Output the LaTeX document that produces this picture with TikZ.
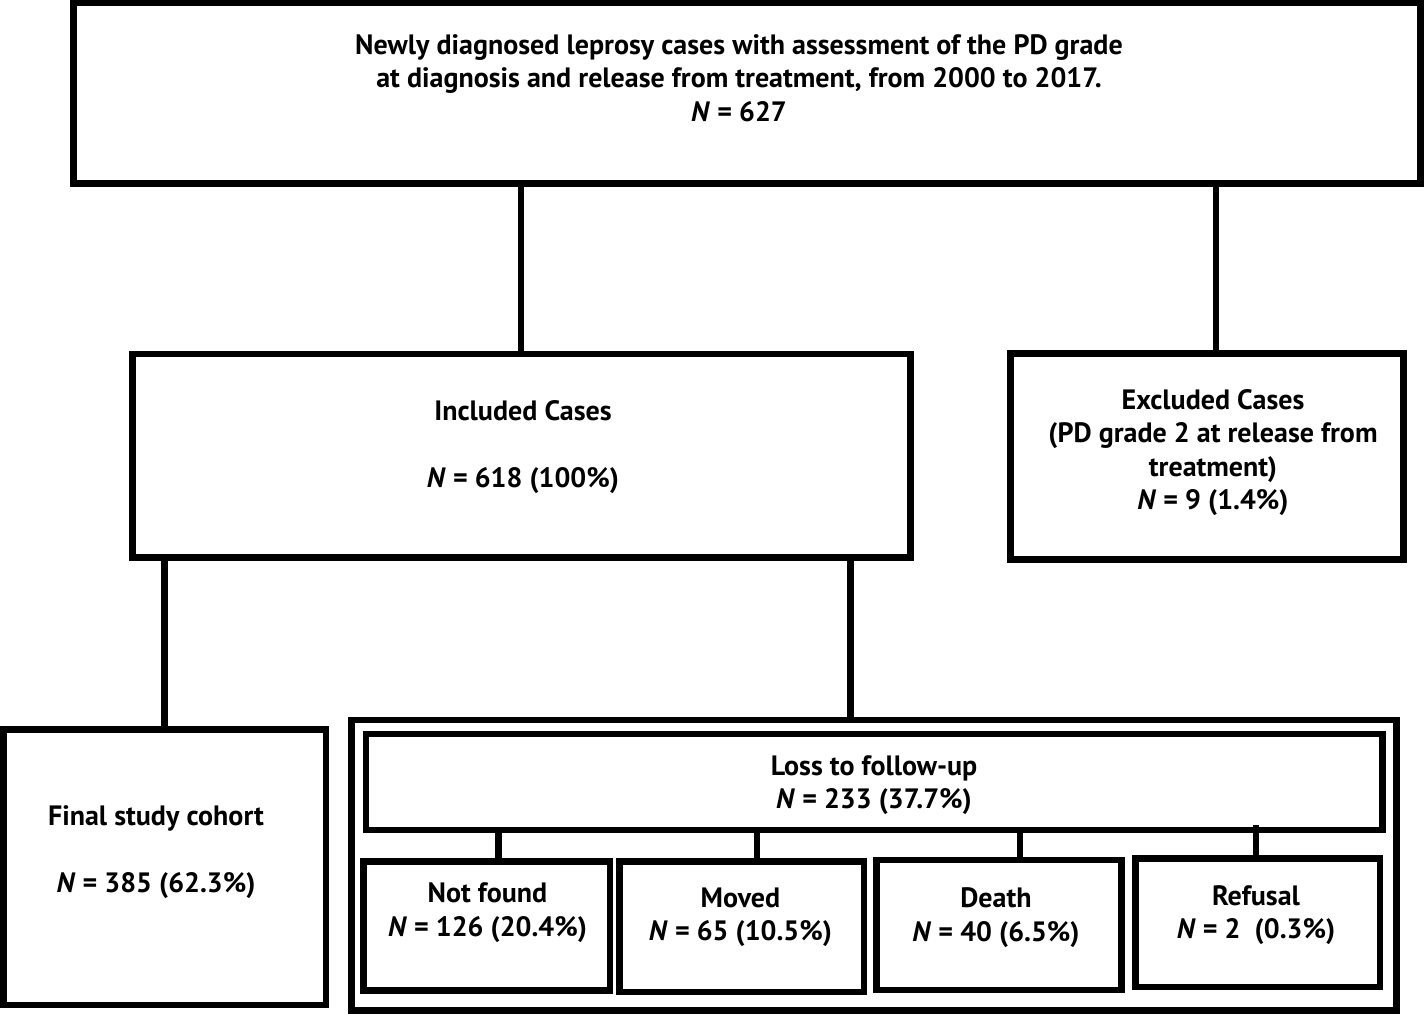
\documentclass[tikz,border=0pt]{standalone}
\usepackage{fontspec}
\setmainfont{PT Sans}
\begin{document}
\begin{tikzpicture}[x=1pt,y=-1pt,
  box/.style={draw=black, line width=6.8pt, inner sep=0pt, outer sep=0pt, fill=none},
  lbl/.style={inner sep=0pt, align=center, font=\fontsize{28}{33.5}\selectfont\bfseries},
  conn/.style={draw=black, line width=6.8pt}]
\useasboundingbox (0,0) rectangle (1424,1015);
% boxes
\node[box, minimum width=1347pt, minimum height=180.5pt] (top) at (747,93.25) {};
\node[box, minimum width=777.8pt, minimum height=203.3pt] (incl) at (521.6,455.65) {};
\node[box, minimum width=392.8pt, minimum height=206pt] (excl) at (1206.9,456.3) {};
\node[box, minimum width=322.7pt, minimum height=275.7pt] (final) at (164.65,867.15) {};
\node[box, minimum width=1045pt, minimum height=290.5pt] (lossouter) at (874.2,865.25) {};
\node[box, minimum width=1016.3pt, minimum height=96pt] (loss) at (874.15,782) {};
\node[box, minimum width=246.7pt, minimum height=129pt] (nf) at (486.65,926) {};
\node[box, minimum width=244.5pt, minimum height=130.5pt] (mv) at (741.75,926.75) {};
\node[box, minimum width=245pt, minimum height=130pt] (dt) at (999,925) {};
\node[box, minimum width=244.5pt, minimum height=128.7pt] (rf) at (1257.75,922.65) {};
% texts
\node[lbl] (ttop) at (739,78) {Newly diagnosed leprosy cases with assessment of the PD grade\\at diagnosis and release from treatment, from 2000 to 2017.\\\textit{N} = 627};
\node[lbl] (tincl) at (523,447) {Included Cases\\[34pt]\textit{N} = 618 (100\%)};
\node[lbl] (texcl) at (1213,452.5) {Excluded Cases\\(PD grade 2 at release from\\treatment)\\\textit{N} = 9 (1.4\%)};
\node[lbl] (tfinal) at (156,852) {Final study cohort\\[34pt]\textit{N} = 385 (62.3\%)};
\node[lbl] (tloss) at (874,785) {Loss to follow-up\\\textit{N} = 233 (37.7\%)};
\node[lbl] (tnf) at (487.5,912.5) {Not found\\\textit{N} = 126 (20.4\%)};
\node[lbl] (tmv) at (740.5,917.5) {Moved\\\textit{N} = 65 (10.5\%)};
\node[lbl] (tdt) at (996,917.5) {Death\\\textit{N} = 40 (6.5\%)};
\node[lbl] (trf) at (1256,915) {Refusal\\\textit{N} = 2\ \ (0.3\%)};
% connectors
\draw[conn] (521,0 |- top.south) -- (521,0 |- incl.north);
\draw[conn] (1216,0 |- top.south) -- (1216,0 |- excl.north);
\draw[conn] (164.5,0 |- incl.south) -- (164.5,0 |- final.north);
\draw[conn] (850.3,0 |- incl.south) -- (850.3,0 |- lossouter.north);
\draw[conn] (498.5,0 |- loss.south) -- (498.5,0 |- nf.north);
\draw[conn] (757,0 |- loss.south) -- (757,0 |- mv.north);
\draw[conn] (1020,0 |- loss.south) -- (1020,0 |- dt.north);
\draw[conn] ([yshift=5pt]1256,0 |- loss.south) -- (1256,0 |- rf.north);
\end{tikzpicture}
\end{document}
